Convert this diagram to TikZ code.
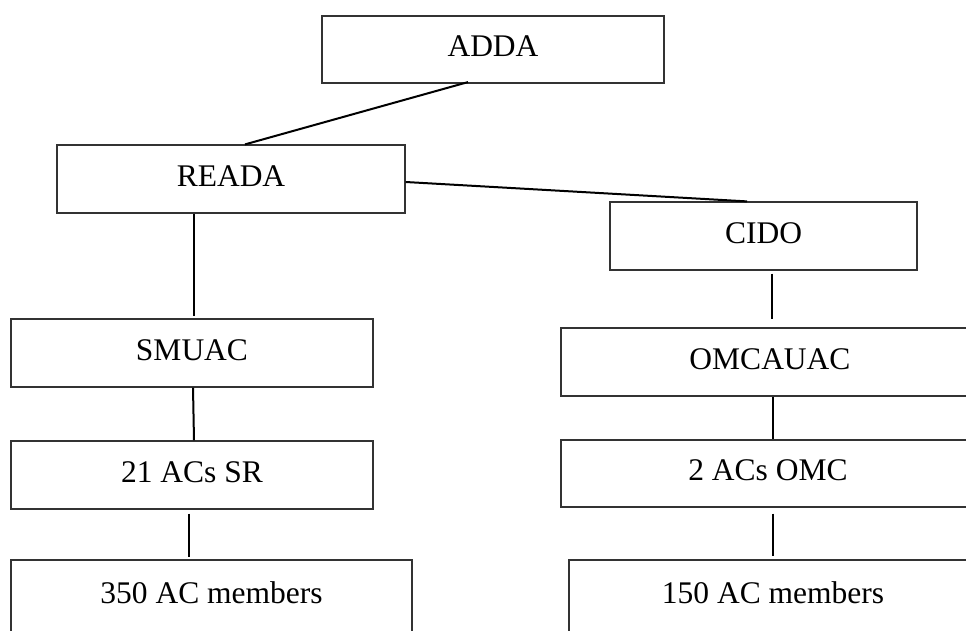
\documentclass[tikz,border=0pt]{standalone}
\usepackage{fontspec}
\setmainfont{Liberation Serif}
\begin{document}
\begin{tikzpicture}[x=1pt,y=-1pt,
  orgbox/.style={draw=black!80, line width=1.2pt, rectangle, inner sep=0pt,
    minimum height=68pt, text height=21pt, text depth=7pt,
    font=\fontsize{31.5}{36}\selectfont},
  link/.style={draw=black, line width=2pt}]
\useasboundingbox (0,0) rectangle (966,631);
\clip (0,0) rectangle (966,631);
% upper levels
\node[orgbox, minimum width=342pt, minimum height=67pt] (adda) at (493,49.5) {ADDA};
\node[orgbox, minimum width=348pt] (reada) at (231,179) {READA};
\node[orgbox, minimum width=307pt] (cido) at (763.5,236) {CIDO};
% left branch
\node[orgbox, minimum width=362pt] (smuac) at (192,353) {SMUAC};
\node[orgbox, minimum width=362pt] (acsr) at (192,475) {21 ACs SR};
\node[orgbox, minimum width=401pt, minimum height=72pt] (memsr) at (211.5,596) {350 AC members};
% right branch
\node[orgbox, minimum width=418pt] (omcauac) at (770,362) {OMCAUAC};
\node[orgbox, minimum width=414pt, minimum height=67pt] (acomc) at (768,473.5) {2 ACs OMC};
\node[orgbox, minimum width=408pt, minimum height=72pt] (memomc) at (773,596) {150 AC members};
% connectors
\draw[link] ([xshift=-25pt,yshift=1.5pt]adda.south) -- ([xshift=14pt]reada.north);
\draw[link] ([yshift=-3pt]reada.east) -- ([xshift=-16.5pt]cido.north);
\draw[link, shorten >=2pt] ([xshift=-37pt]reada.south) -- ([xshift=2pt]smuac.north);
\draw[link] ([xshift=1pt]smuac.south) -- ([xshift=2pt]acsr.north);
\draw[link, shorten <=4pt, shorten >=2pt] ([xshift=-3pt]acsr.south) -- ([xshift=-22.5pt]memsr.north);
\draw[link, shorten <=3pt, shorten >=8pt] ([xshift=8.5pt]cido.south) -- ([xshift=2pt]omcauac.north);
\draw[link] ([xshift=3pt]omcauac.south) -- ([xshift=5pt]acomc.north);
\draw[link, shorten <=6pt, shorten >=3pt] ([xshift=5pt]acomc.south) -- (memomc.north);
\end{tikzpicture}
\end{document}
